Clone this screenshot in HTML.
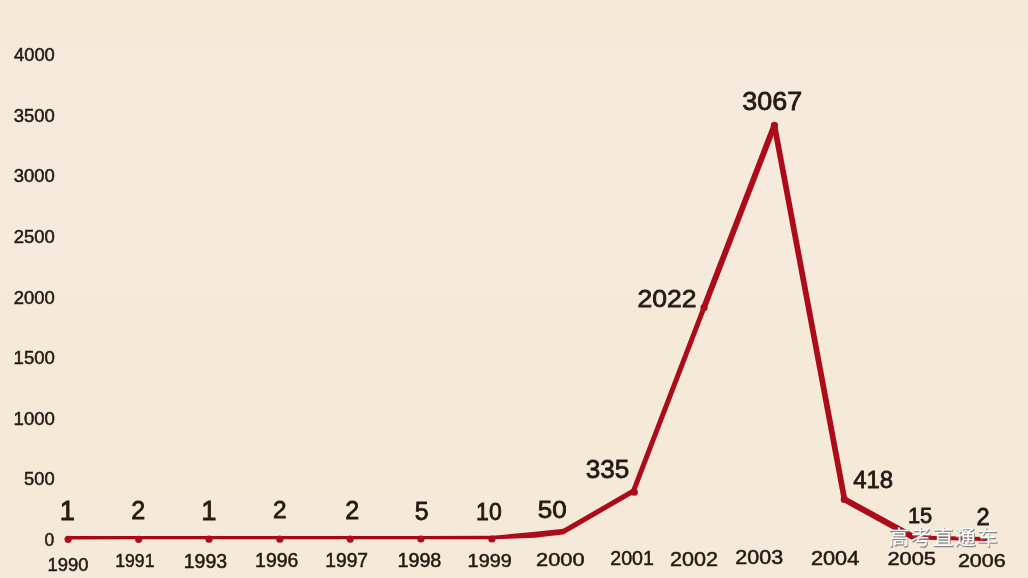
<!DOCTYPE html>
<html><head><meta charset="utf-8"><style>
html,body{margin:0;padding:0;background:#F5EAD9;overflow:hidden}
svg{display:block}
.t,.d{font-family:"Liberation Sans",sans-serif;fill:#231A12;stroke:#231A12}
.t{stroke-width:0.5px}
.d{stroke-width:0.8px}
.wm{font-family:"Liberation Sans","Noto Sans CJK SC",sans-serif;font-size:20.6px;letter-spacing:1.55px}
</style></head><body>
<svg width="1028" height="578" viewBox="0 0 1028 578">
<defs><linearGradient id="bg" x1="0" y1="0" x2="0" y2="578" gradientUnits="userSpaceOnUse">
<stop offset="0" stop-color="#F5EAD5"/><stop offset="0.05" stop-color="#F5EAD7"/><stop offset="0.1" stop-color="#F5EADB"/>
<stop offset="0.5" stop-color="#F5EADB"/><stop offset="0.56" stop-color="#F5EAD8"/><stop offset="1" stop-color="#F5EAD9"/></linearGradient></defs>
<rect width="1028" height="578" fill="url(#bg)"/>
<g fill="none" stroke="#AC0B19" stroke-linejoin="round" stroke-linecap="round">
<polyline points="68,537.7 138.6,537.6 209,537.6 279.8,537.6 350.2,537.6 420.9,537.6 492,537.5" stroke-width="3.4" stroke="#A50916"/>
<line x1="563.5" y1="531.5" x2="633.5" y2="491" stroke-width="5.0"/>
<line x1="633.5" y1="491" x2="704" y2="307.5" stroke-width="4.9"/>
<line x1="704" y1="307.5" x2="774.4" y2="125.2" stroke-width="5.9"/>
<line x1="774.4" y1="125.2" x2="844.5" y2="499.4" stroke-width="5.7"/>
<line x1="844.5" y1="499.4" x2="914" y2="537.5" stroke-width="6.1"/>
<line x1="914" y1="537.5" x2="986" y2="539" stroke-width="4.2"/>
</g>
<polygon points="492,535.8 535,531.8 563.5,528.8 564.5,534.2 535,537.8 492,539.3" fill="#AC0B19"/>
<g fill="#AE0C1A">
<circle cx="634.3" cy="492.2" r="3.6"/>
<circle cx="68.1" cy="539.3000000000001" r="3.6"/>
<circle cx="138.6" cy="539.3000000000001" r="3.6"/>
<circle cx="209" cy="539.2" r="3.6"/>
<circle cx="279.8" cy="539.2" r="3.6"/>
<circle cx="350.2" cy="539.1" r="3.6"/>
<circle cx="420.9" cy="539.0" r="3.6"/>
<circle cx="491.9" cy="539.0" r="3.6"/>
<circle cx="704" cy="307.7" r="3.6"/>
<circle cx="774.4" cy="125.4" r="3.6"/>
<circle cx="844.3" cy="499.5" r="3.6"/>
</g>
<text class="t" transform="translate(14.0 61.3) scale(1.050 1)" font-size="17.46">4000</text>
<text class="t" transform="translate(13.8 121.8) scale(1.057 1)" font-size="17.46">3500</text>
<text class="t" transform="translate(13.8 182.4) scale(1.048 1)" font-size="17.61">3000</text>
<text class="t" transform="translate(13.8 243.0) scale(1.048 1)" font-size="17.61">2500</text>
<text class="t" transform="translate(13.8 303.5) scale(1.048 1)" font-size="17.61">2000</text>
<text class="t" transform="translate(13.6 364.1) scale(1.055 1)" font-size="17.61">1500</text>
<text class="t" transform="translate(13.6 424.6) scale(1.055 1)" font-size="17.61">1000</text>
<text class="t" transform="translate(24.1 485.2) scale(1.040 1)" font-size="17.61">500</text>
<text class="t" x="44.6" y="545.6" font-size="17.46">0</text>
<text class="t" transform="translate(47.6 571.3) scale(1.044 1)" font-size="17.61">1990</text>
<text class="t" transform="translate(115.3 567.0) scale(0.926 1)" font-size="19.01">1991</text>
<text class="t" transform="translate(183.8 567.6) scale(1.009 1)" font-size="19.30">1993</text>
<text class="t" x="255.1" y="567.2" font-size="19.44">1996</text>
<text class="t" transform="translate(325.2 567.2) scale(0.992 1)" font-size="19.44">1997</text>
<text class="t" transform="translate(397.4 567.2) scale(1.017 1)" font-size="19.44">1998</text>
<text class="t" transform="translate(467.6 566.8) scale(1.076 1)" font-size="18.45">1999</text>
<text class="t" transform="translate(536.1 565.7) scale(1.157 1)" font-size="18.87">2000</text>
<text class="t" transform="translate(610.2 565.3) scale(0.990 1)" font-size="19.86">2001</text>
<text class="t" transform="translate(670.0 565.6) scale(1.058 1)" font-size="20.42">2002</text>
<text class="t" transform="translate(735.3 564.3) scale(1.106 1)" font-size="19.44">2003</text>
<text class="t" transform="translate(810.9 564.7) scale(1.110 1)" font-size="19.58">2004</text>
<text class="t" transform="translate(887.4 565.3) scale(1.157 1)" font-size="18.87">2005</text>
<text class="t" transform="translate(957.9 567.1) scale(1.123 1)" font-size="19.15">2006</text>
<text class="d" x="59.7" y="520.2" font-size="27.39">1</text>
<text class="d" x="131.2" y="519.4" font-size="25.14">2</text>
<text class="d" x="201.3" y="520.2" font-size="27.39">1</text>
<text class="d" x="272.9" y="518.0" font-size="24.43">2</text>
<text class="d" x="345.3" y="519.4" font-size="25.14">2</text>
<text class="d" x="414.8" y="519.5" font-size="24.86">5</text>
<text class="d" transform="translate(476.1 519.5) scale(0.979 1)" font-size="23.52">10</text>
<text class="d" transform="translate(537.7 517.8) scale(1.106 1)" font-size="23.52">50</text>
<text class="d" transform="translate(585.7 477.9) scale(1.049 1)" font-size="24.93">335</text>
<text class="d" transform="translate(637.4 307.4) scale(1.077 1)" font-size="24.65">2022</text>
<text class="d" transform="translate(742.3 110.4) scale(1.058 1)" font-size="25.42">3067</text>
<text class="d" x="853.2" y="488.4" font-size="23.94">418</text>
<text class="d" transform="translate(907.9 523.2) scale(0.959 1)" font-size="22.86">15</text>
<text class="d" x="976.6" y="525.2" font-size="23.57">2</text>
<g class="wm">
<text x="889.3" y="545.7" fill="#8a8a8a" stroke="#8a8a8a" stroke-width="0.6">高考直通车</text>
<text x="888.7" y="545.0" fill="#fbfbfb">高考直通车</text>
</g>
</svg>
</body></html>
